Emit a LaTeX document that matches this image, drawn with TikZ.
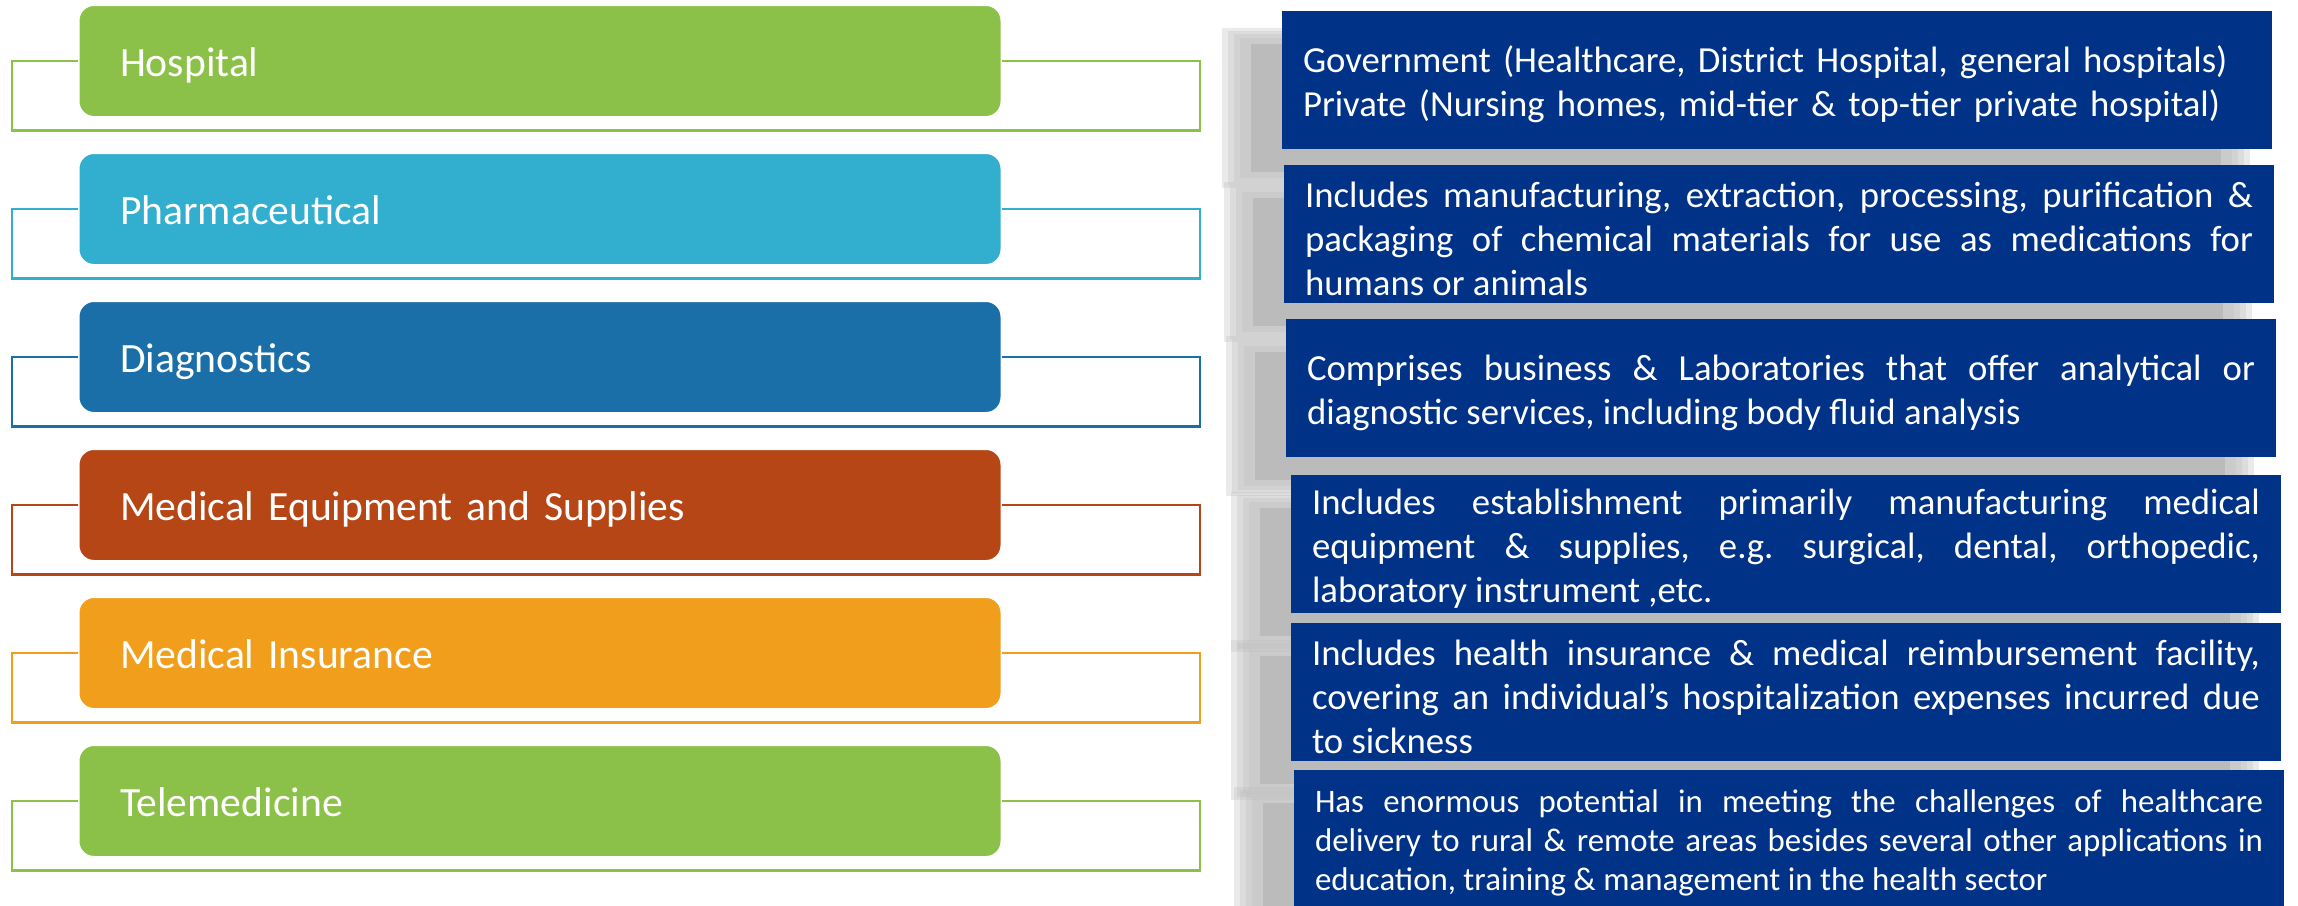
\documentclass[tikz,border=0pt]{standalone}
\usepackage{fontspec}
\setmainfont{Carlito}
\usetikzlibrary{
  backgrounds,
  calc,
  positioning,
}
\frenchspacing
\hyphenpenalty=10000
\exhyphenpenalty=10000
\definecolor{hospgreen}{RGB}{139, 193, 72}
\definecolor{pharmcyan}{RGB}{50, 174, 206}
\definecolor{diagblue}{RGB}{27, 111, 168}
\definecolor{equipred}{RGB}{182, 70, 22}
\definecolor{insorange}{RGB}{240, 158, 28}
\definecolor{descblue}{RGB}{0, 50, 135}
\definecolor{shadowgray}{RGB}{187, 187, 187}
\tikzstyle{pill} = [
  rectangle,
  rounded corners=1.6mm,
  draw=white,
  line width=0.3mm,
  outer sep=0mm,
  minimum width=92.4mm,
  minimum height=11.3mm,
  text width=84mm,
  inner xsep=4.2mm,
  inner ysep=0mm,
  text height=1.0em,
  text depth=0.13em,
  align=left,
  text=white,
  font=\fontsize{11.85pt}{14pt}\selectfont,
]
\tikzstyle{bracket} = [
  line width=0.25mm,
]
\tikzstyle{descbox} = [
  rectangle,
  fill=descblue,
  minimum width=99mm,
  minimum height=13.8mm,
  text width=94.8mm,
  inner xsep=2.1mm,
  inner ysep=0mm,
  align=justify,
  text=white,
  font=\fontsize{10.45pt}{12.5pt}\selectfont,
  execute at begin node={\endgraf\vspace*{-0.9mm}\noindent},
]
\tikzstyle{shadowlayer} = [
  fill=shadowgray,
  fill opacity=0.3,
]

\begin{document}
\begin{tikzpicture}[x=0.1mm,y=-0.1mm,node distance=3.5mm and 0mm]
  \useasboundingbox (0,0) rectangle (2298,905);

  % sectors
  \node[pill,fill=hospgreen] (hosp) at (540,61) {Hospital};
  \node[pill,fill=pharmcyan] (pharm) [below=of hosp] {Pharmaceutical};
  \node[pill,fill=diagblue] (diag) [below=of pharm] {Diagnostics};
  \node[pill,fill=equipred] (equip) [below=of diag] {Medical Equipment and Supplies};
  \node[pill,fill=insorange] (ins) [below=of equip] {Medical Insurance};
  \node[pill,fill=hospgreen] (tele) [below=of ins] {Telemedicine};

  \draw[bracket,hospgreen] (hosp.west) -- ++(-66,0) |- ($(hosp.south)+(0,13)$) -| ($(hosp.east)+(198,0)$) -- (hosp.east);
  \draw[bracket,pharmcyan] (pharm.west) -- ++(-66,0) |- ($(pharm.south)+(0,13)$) -| ($(pharm.east)+(198,0)$) -- (pharm.east);
  \draw[bracket,diagblue] (diag.west) -- ++(-66,0) |- ($(diag.south)+(0,13)$) -| ($(diag.east)+(198,0)$) -- (diag.east);
  \draw[bracket,equipred] (equip.west) -- ++(-66,0) |- ($(equip.south)+(0,13)$) -| ($(equip.east)+(198,0)$) -- (equip.east);
  \draw[bracket,insorange] (ins.west) -- ++(-66,0) |- ($(ins.south)+(0,13)$) -| ($(ins.east)+(198,0)$) -- (ins.east);
  \draw[bracket,hospgreen] (tele.west) -- ++(-66,0) |- ($(tele.south)+(0,13)$) -| ($(tele.east)+(198,0)$) -- (tele.east);

  % descriptions
  \node[descbox,align=left] (dhosp) at (1777,80) {Government (Healthcare, District Hospital, general hospitals)\\Private (Nursing homes, mid-tier \& top-tier private hospital)};
  \node[descbox] (dpharm) at (1779,234) {Includes manufacturing, extraction, processing, purification \&\linebreak packaging of chemical materials for use as medications for\linebreak humans or animals};
  \node[descbox] (ddiag) at (1781,388) {Comprises business \& Laboratories that offer analytical or\linebreak diagnostic services, including body fluid analysis};
  \node[descbox] (dequip) at (1786,544) {Includes establishment primarily manufacturing medical\linebreak equipment \& supplies, e.g. surgical, dental, orthopedic,\linebreak laboratory instrument ,etc.};
  \node[descbox] (dins) at (1786,692) {Includes health insurance \& medical reimbursement facility,\linebreak covering an individual’s hospitalization expenses incurred due\linebreak to sickness};
  \node[descbox,font=\fontsize{9.35pt}{11.1pt}\selectfont] (dtele) at (1789,839) {Has enormous potential in meeting the challenges of healthcare\linebreak delivery to rural \& remote areas besides several other applications in\linebreak education, training \& management in the health sector};

  % soft shadows
  \begin{scope}[on background layer]
    \foreach \bx in {dhosp,dpharm,ddiag,dequip,dins,dtele} {
      \fill[shadowgray] ([shift={(-30,34)}]\bx.north west) rectangle ([shift={(-52,22)}]\bx.south east);
      \foreach \ex/\ey in {18/10,12/7,6/4,0/0} {
        \fill[shadowlayer] ([shift={({-41-\ex},{28-\ey})}]\bx.north west) rectangle ([shift={({-41+\ex},{28+\ey})}]\bx.south east);
      }
    }
  \end{scope}

\end{tikzpicture}
\end{document}
